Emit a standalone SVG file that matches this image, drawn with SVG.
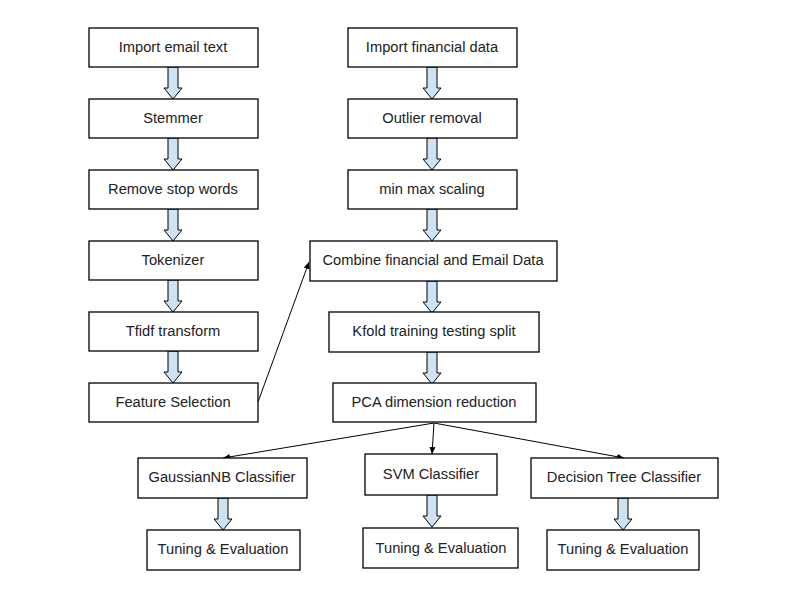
<svg xmlns="http://www.w3.org/2000/svg" width="800" height="600" viewBox="0 0 800 600">
<style>
.box{fill:#fff;stroke:#000;stroke-width:1.3}
.t{font-family:"Liberation Sans",Arial,sans-serif;font-size:14.7px;fill:#222;text-anchor:middle;dominant-baseline:central}
.ba{fill:#cfe2f3;stroke:#000;stroke-width:1}
.ln{stroke:#000;stroke-width:1;fill:none;marker-end:url(#ah)}
</style>
<defs>
<marker id="ah" markerWidth="8" markerHeight="8" refX="7" refY="4" orient="auto" markerUnits="userSpaceOnUse">
<path d="M0,1 L7,4 L0,7 z" fill="#000"/>
</marker>
<path id="blk" d="M-5,0 L5,0 L5,21 L9,21 L0,32 L-9,21 L-5,21 Z"/>
</defs>
<rect width="800" height="600" fill="#fff"/>
<g id="connectors">
<use href="#blk" class="ba" x="173" y="67"/>
<use href="#blk" class="ba" x="173" y="138"/>
<use href="#blk" class="ba" x="173" y="209"/>
<use href="#blk" class="ba" x="173" y="280"/>
<use href="#blk" class="ba" x="173" y="351"/>
<use href="#blk" class="ba" x="432" y="67"/>
<use href="#blk" class="ba" x="432" y="138"/>
<use href="#blk" class="ba" x="432" y="209"/>
<use href="#blk" class="ba" x="432" y="281"/>
<use href="#blk" class="ba" x="432" y="352"/>
<use href="#blk" class="ba" x="223" y="498"/>
<use href="#blk" class="ba" x="432" y="495"/>
<use href="#blk" class="ba" x="623" y="498"/>
<path class="ln" d="M258,402 L309,262"/>
<path class="ln" d="M434,423 L223,458"/>
<path class="ln" d="M434,423 L432,454"/>
<path class="ln" d="M434,423 L624,458"/>
</g>
<g id="n1"><rect class="box" x="89" y="28" width="169" height="39"/><text class="t" x="173" y="47">Import email text</text></g>
<g id="n2"><rect class="box" x="89" y="99" width="169" height="39"/><text class="t" x="173" y="118">Stemmer</text></g>
<g id="n3"><rect class="box" x="89" y="170" width="169" height="39"/><text class="t" x="173" y="189">Remove stop words</text></g>
<g id="n4"><rect class="box" x="89" y="241" width="169" height="39"/><text class="t" x="173" y="260">Tokenizer</text></g>
<g id="n5"><rect class="box" x="89" y="312" width="169" height="39"/><text class="t" x="173" y="331">Tfidf transform</text></g>
<g id="n6"><rect class="box" x="89" y="383" width="169" height="39"/><text class="t" x="173" y="402">Feature Selection</text></g>
<g id="n7"><rect class="box" x="348" y="28" width="169" height="39"/><text class="t" x="432" y="47">Import financial data</text></g>
<g id="n8"><rect class="box" x="348" y="99" width="169" height="39"/><text class="t" x="432" y="118">Outlier removal</text></g>
<g id="n9"><rect class="box" x="348" y="170" width="169" height="39"/><text class="t" x="432" y="189">min max scaling</text></g>
<g id="n10"><rect class="box" x="310" y="241" width="247" height="40"/><text class="t" x="433" y="260">Combine financial and Email Data</text></g>
<g id="n11"><rect class="box" x="329" y="312" width="210" height="40"/><text class="t" x="434" y="331">Kfold training testing split</text></g>
<g id="n12"><rect class="box" x="333" y="383" width="203" height="39"/><text class="t" x="434" y="402">PCA dimension reduction</text></g>
<g id="n13"><rect class="box" x="138" y="458" width="169" height="40"/><text class="t" x="222" y="477">GaussianNB Classifier</text></g>
<g id="n14"><rect class="box" x="365" y="454" width="132" height="41"/><text class="t" x="431" y="474">SVM Classifier</text></g>
<g id="n15"><rect class="box" x="531" y="458" width="187" height="40"/><text class="t" x="624" y="477">Decision Tree Classifier</text></g>
<g id="n16"><rect class="box" x="147" y="530" width="153" height="40"/><text class="t" x="223" y="549">Tuning &amp; Evaluation</text></g>
<g id="n17"><rect class="box" x="363" y="528" width="155" height="40"/><text class="t" x="441" y="548">Tuning &amp; Evaluation</text></g>
<g id="n18"><rect class="box" x="547" y="530" width="152" height="40"/><text class="t" x="623" y="549">Tuning &amp; Evaluation</text></g>
</svg>
